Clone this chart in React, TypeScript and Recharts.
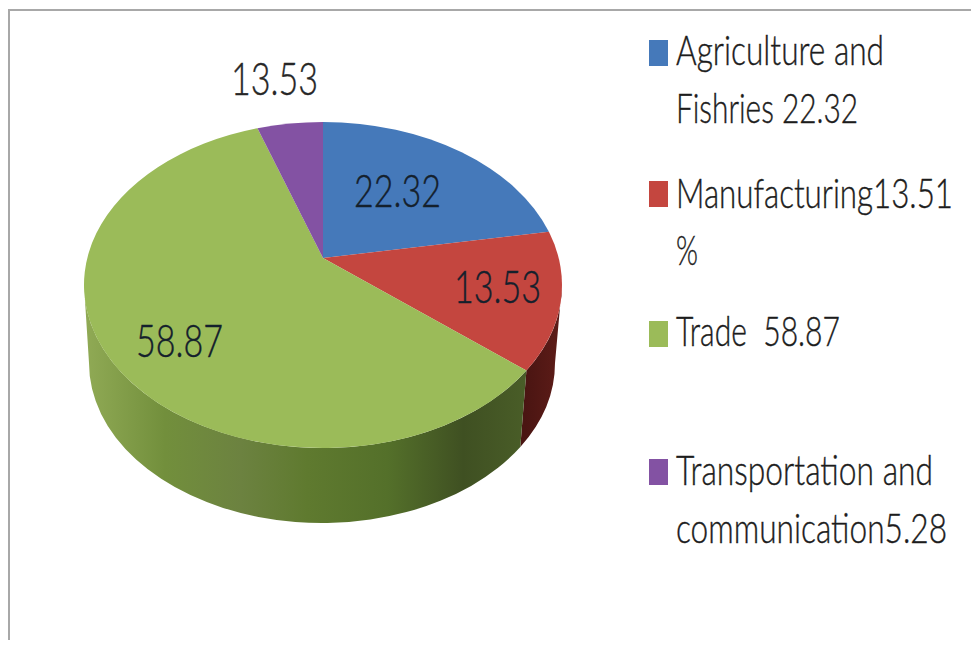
import React from "react";
import { PieChart, Pie, Legend } from "recharts";

const categories = [
  "Agriculture and Fishries 22.32",
  "Manufacturing13.51 %",
  "Trade  58.87",
  "Transportation and communication5.28",
];
const shares = [22.32, 13.53, 58.87, 5.28];
const sliceLabels = ["22.32", "13.53", "58.87", "13.53"];
const topColors = ["#4579ba", "#c4463f", "#9bbb59", "#8352a3"];
const wallColors = ["#2c4a70", "url(#redWall)", "url(#greenWall)", "#4c2f60"];
const legendLines = [
  ["Agriculture and", "Fishries 22.32"],
  ["Manufacturing13.51", "%"],
  ["Trade  58.87"],
  ["Transportation and", "communication5.28"],
];

const rows = categories.map((name, i) => ({ name, value: shares[i], fill: topColors[i] }));
const wallRows = categories.map((name, i) => ({ name, value: shares[i], fill: wallColors[i] }));

// Tilted-disc geometry: rim ellipse, the point the slices meet at, and the lower rim.
const RIM = { cx: 323, cy: 285, rx: 239, ry: 163 };
const APEX = { x: 323, y: 258 };
const BASE = { cx: 322, cy: 363, rx: 233, ry: 160 };

const rad = (d: number) => (d * Math.PI) / 180;

// Clockwise-from-top bearing of a slice edge, resolved to a parameter on the rim ellipse.
function rimParam(bearing: number) {
  const dx = RIM.rx * Math.sin(rad(bearing));
  const dy = -RIM.ry * Math.cos(rad(bearing));
  const ox = (APEX.x - RIM.cx) / RIM.rx;
  const oy = (APEX.y - RIM.cy) / RIM.ry;
  const ux = dx / RIM.rx;
  const uy = dy / RIM.ry;
  const a = ux * ux + uy * uy;
  const b = 2 * (ox * ux + oy * uy);
  const c = ox * ox + oy * oy - 1;
  const s = (-b + Math.sqrt(b * b - 4 * a * c)) / (2 * a);
  const px = ox + s * ux;
  const py = oy + s * uy;
  let t = (Math.atan2(px, -py) * 180) / Math.PI;
  const whole = Math.floor(bearing / 360) * 360;
  t = ((t % 360) + 360) % 360 + whole;
  if (t < bearing - 180) t += 360;
  if (t > bearing + 180) t -= 360;
  return t;
}

const onEllipse = (e: { cx: number; cy: number; rx: number; ry: number }, t: number) => ({
  x: e.cx + e.rx * Math.sin(rad(t)),
  y: e.cy - e.ry * Math.cos(rad(t)),
});

function TopSlice(props: any) {
  const t0 = rimParam(90 - props.startAngle);
  const t1 = rimParam(90 - props.endAngle);
  const p0 = onEllipse(RIM, t0);
  const p1 = onEllipse(RIM, t1);
  const large = t1 - t0 > 180 ? 1 : 0;
  const d = `M${APEX.x},${APEX.y}L${p0.x},${p0.y}A${RIM.rx},${RIM.ry} 0 ${large} 1 ${p1.x},${p1.y}Z`;
  return <path d={d} fill={props.fill} />;
}

function WallSlice(props: any) {
  const t0 = Math.max(rimParam(90 - props.startAngle), 90);
  const t1 = Math.min(rimParam(90 - props.endAngle), 270);
  if (t1 <= t0) return <g />;
  const a0 = onEllipse(RIM, t0);
  const a1 = onEllipse(RIM, t1);
  const b0 = onEllipse(BASE, t0);
  const b1 = onEllipse(BASE, t1);
  const large = t1 - t0 > 180 ? 1 : 0;
  const d =
    `M${a0.x},${a0.y}A${RIM.rx},${RIM.ry} 0 ${large} 1 ${a1.x},${a1.y}` +
    `L${b1.x},${b1.y}A${BASE.rx},${BASE.ry} 0 ${large} 0 ${b0.x},${b0.y}Z`;
  return <path d={d} fill={props.fill} />;
}

const FONT = "Lato, 'Open Sans', sans-serif";
// Horizontal squeeze that gives the narrow letterforms of the captions and key.
const SQUEEZE = 0.74;

// Text drawn squeezed about its own start point and fitted to a given run width.
function NarrowText(props: { x: number; y: number; w: number; size: number; fill: string; children: string }) {
  return (
    <text
      transform={`translate(${props.x},${props.y}) scale(${SQUEEZE},1)`}
      fontFamily={FONT}
      fontSize={props.size}
      fontWeight={300}
      fill={props.fill}
      stroke={props.fill}
      strokeWidth={0.4}
      textLength={props.w / SQUEEZE}
      lengthAdjust="spacingAndGlyphs"
      xmlSpace="preserve"
    >
      {props.children}
    </text>
  );
}

// Anchor and fitted width of each slice caption.
const captionBoxes = [
  { x: 354, y: 207, w: 87 },
  { x: 454, y: 303, w: 87 },
  { x: 136, y: 357, w: 87 },
  { x: 231, y: 95, w: 87 },
];

function sliceCaption(props: any) {
  const box = captionBoxes[props.index];
  return (
    <NarrowText x={box.x} y={box.y} w={box.w} size={45} fill={props.index === 3 ? "#262626" : "#14202c"}>
      {sliceLabels[props.index]}
    </NarrowText>
  );
}

// Swatch tops and fitted text runs for the key on the right.
const swatchTops = [40, 181, 321, 459];
const lineRuns = [
  [{ y: 65, w: 208 }, { y: 123, w: 182 }],
  [{ y: 208, w: 277 }, { y: 265, w: 22 }],
  [{ y: 346, w: 164 }],
  [{ y: 485, w: 257 }, { y: 543, w: 271 }],
];

function KeyPanel() {
  return (
    <svg width={971} height={645} style={{ position: "absolute", left: 0, top: 0, overflow: "visible" }}>
      {rows.map((row, i) => (
        <g key={row.name}>
          <rect x={649} y={swatchTops[i]} width={19} height={26} fill={row.fill} />
          {legendLines[i].map((line, j) => (
            <NarrowText key={line} x={676} y={lineRuns[i][j].y} w={lineRuns[i][j].w} size={41} fill="#1c1c1c">
              {line}
            </NarrowText>
          ))}
        </g>
      ))}
    </svg>
  );
}

export default function App() {
  return (
    <div style={{ position: "absolute", left: 0, top: 0, width: 971, height: 645, background: "#fff", overflow: "hidden" }}>
      <div
        style={{
          position: "absolute",
          left: 8,
          top: 9,
          width: 963,
          height: 631,
          borderTop: "2px solid #a8a8a8",
          borderLeft: "2px solid #a8a8a8",
          boxSizing: "border-box",
        }}
      />
      <div style={{ position: "absolute", left: 0, top: 0 }}>
        <PieChart width={971} height={645} margin={{ top: 0, right: 0, bottom: 0, left: 0 }}>
          <defs>
            <linearGradient id="greenWall" gradientUnits="userSpaceOnUse" x1={85} y1={0} x2={530} y2={0}>
              <stop offset="0" stopColor="#90aa55" />
              <stop offset="0.18" stopColor="#728f3c" />
              <stop offset="0.35" stopColor="#6c8240" />
              <stop offset="0.5" stopColor="#5f7a2f" />
              <stop offset="0.68" stopColor="#54702a" />
              <stop offset="0.85" stopColor="#3f5022" />
              <stop offset="1" stopColor="#4a5e28" />
            </linearGradient>
            <linearGradient id="redWall" gradientUnits="userSpaceOnUse" x1={525} y1={0} x2={562} y2={0}>
              <stop offset="0" stopColor="#4a1512" />
              <stop offset="1" stopColor="#5e1c18" />
            </linearGradient>
          </defs>
          <Pie
            data={wallRows}
            dataKey="value"
            nameKey="name"
            cx={RIM.cx}
            cy={RIM.cy}
            outerRadius={RIM.rx}
            startAngle={90}
            endAngle={-270}
            stroke="none"
            legendType="none"
            shape={WallSlice}
            isAnimationActive={false}
          />
          <Pie
            data={rows}
            dataKey="value"
            nameKey="name"
            cx={RIM.cx}
            cy={RIM.cy}
            outerRadius={RIM.rx}
            startAngle={90}
            endAngle={-270}
            stroke="none"
            shape={TopSlice}
            label={sliceCaption}
            labelLine={false}
            isAnimationActive={false}
          />
          <Legend content={KeyPanel} wrapperStyle={{ position: "absolute", left: 0, top: 0, width: 971, height: 645 }} />
        </PieChart>
      </div>
    </div>
  );
}
